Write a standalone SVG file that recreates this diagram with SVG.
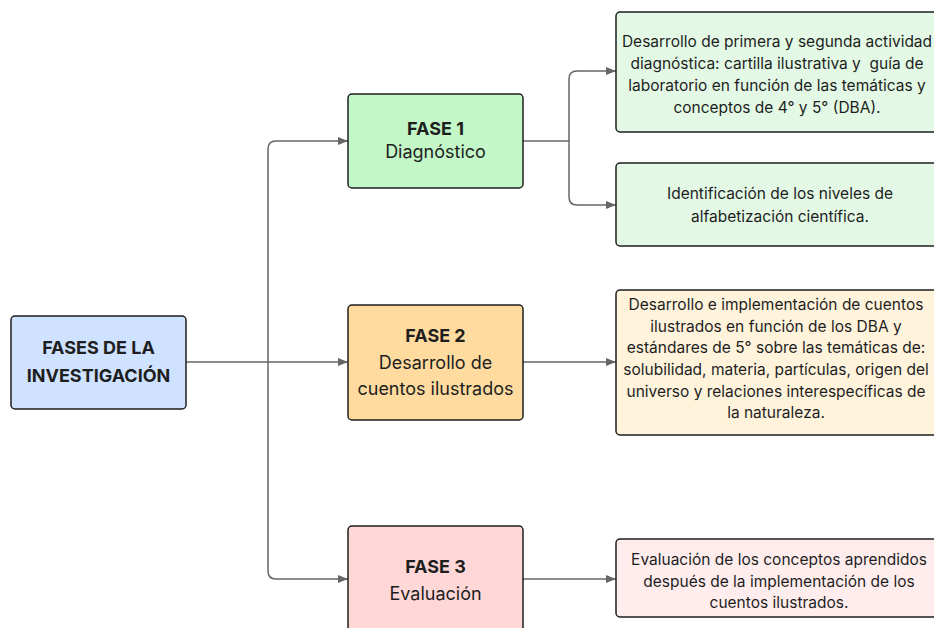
<svg xmlns="http://www.w3.org/2000/svg" width="934" height="628" viewBox="0 0 934 628">
<defs>
<marker id="arr" viewBox="0 0 10 10" refX="10" refY="5" markerWidth="10" markerHeight="10" markerUnits="userSpaceOnUse" orient="auto">
<path d="M0 1 L10 5 L0 9 Z" fill="#666"/>
</marker>
</defs>
<style>
.box{stroke:#1e1e1e;stroke-width:1.5}
.t{font-family:Inter,"Liberation Sans",sans-serif;fill:#1e1e1e;text-anchor:middle;white-space:pre}
.b{font-weight:bold;font-size:18px}
.m{font-size:18px}
.s{font-size:15.5px}
.c{fill:none;stroke:#666;stroke-width:1.5}
</style>
<rect width="934" height="628" fill="#fff"/>
<g id="connectors">
<path class="c" d="M186 362 H268"/>
<path class="c" d="M268 362 V149 Q268 141 276 141 H348" marker-end="url(#arr)"/>
<path class="c" d="M268 362 H348" marker-end="url(#arr)"/>
<path class="c" d="M268 362 V571 Q268 579 276 579 H348" marker-end="url(#arr)"/>
<path class="c" d="M523 141 H569"/>
<path class="c" d="M569 141 V79 Q569 71 577 71 H616" marker-end="url(#arr)"/>
<path class="c" d="M569 141 V197 Q569 205 577 205 H616" marker-end="url(#arr)"/>
<path class="c" d="M523 362 H616" marker-end="url(#arr)"/>
<path class="c" d="M523 579 H616" marker-end="url(#arr)"/>
</g>
<g id="root">
<rect class="box" x="11" y="316" width="175" height="93" rx="4" fill="#cfe2ff"/>
<text class="t b" x="98.5" y="354">FASES DE LA</text>
<text class="t b" x="98.5" y="382">INVESTIGACIÓN</text>
</g>
<g id="fase1">
<rect class="box" x="348" y="94" width="175" height="94" rx="4" fill="#c3f7c8"/>
<text class="t b" x="435.5" y="135">FASE 1</text>
<text class="t m" x="435.5" y="158">Diagnóstico</text>
</g>
<g id="fase2">
<rect class="box" x="348" y="305" width="175" height="115" rx="4" fill="#ffdba0"/>
<text class="t b" x="435.5" y="342">FASE 2</text>
<text class="t m" x="435.5" y="369">Desarrollo de</text>
<text class="t m" x="435.5" y="395">cuentos ilustrados</text>
</g>
<g id="fase3">
<rect class="box" x="348" y="526" width="175" height="130" rx="4" fill="#ffd7d7"/>
<text class="t b" x="435.5" y="573">FASE 3</text>
<text class="t m" x="435.5" y="600">Evaluación</text>
</g>
<g id="diag1">
<rect class="box" x="616" y="12" width="330" height="120" rx="4" fill="#e3f9e5"/>
<text class="t s" x="777" y="47">Desarrollo de primera y segunda actividad</text>
<text class="t s" x="777" y="69">diagnóstica: cartilla ilustrativa y  guía de</text>
<text class="t s" x="777" y="91">laboratorio en función de las temáticas y</text>
<text class="t s" x="777" y="113">conceptos de 4° y 5° (DBA).</text>
</g>
<g id="diag2">
<rect class="box" x="616" y="163" width="330" height="83" rx="4" fill="#e3f9e5"/>
<text class="t s" x="780" y="199">Identificación de los niveles de</text>
<text class="t s" x="780" y="222">alfabetización científica.</text>
</g>
<g id="desarrollo">
<rect class="box" x="616" y="290" width="330" height="145" rx="4" fill="#fff3dc"/>
<text class="t s" x="776" y="310">Desarrollo e implementación de cuentos</text>
<text class="t s" x="776" y="332">ilustrados en función de los DBA y</text>
<text class="t s" x="776" y="353">estándares de 5° sobre las temáticas de:</text>
<text class="t s" x="776" y="375">solubilidad, materia, partículas, origen del</text>
<text class="t s" x="776" y="397">universo y relaciones interespecíficas de</text>
<text class="t s" x="776" y="418">la naturaleza.</text>
</g>
<g id="evaluacion">
<rect class="box" x="616" y="539" width="330" height="78" rx="4" fill="#ffeded"/>
<text class="t s" x="779" y="565">Evaluación de los conceptos aprendidos</text>
<text class="t s" x="779" y="587">después de la implementación de los</text>
<text class="t s" x="779" y="608">cuentos ilustrados.</text>
</g>
</svg>
